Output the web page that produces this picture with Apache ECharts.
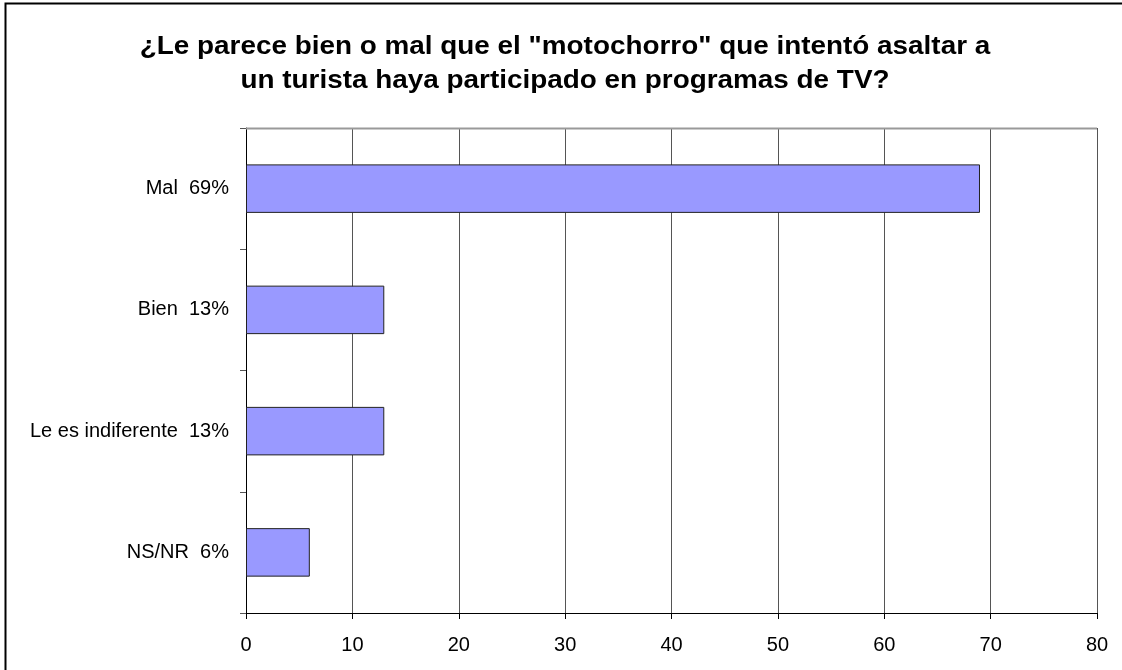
<!DOCTYPE html>
<html>
	<head>
		<meta charset="UTF-8" />
		<script src="https://cdn.jsdelivr.net/npm/echarts@6/dist/echarts.min.js"></script>
		<title>Encuesta</title>
		<style>
			body {
				margin: 0;
				background-color: #ffffff;
				font-family: 'Liberation Sans', Arial, sans-serif;
			}
			#chart {
				width: 1122px;
				height: 670px;
			}
		</style>
	</head>
	<body>
		<div id="chart"></div>
	</body>
</html>

<script>
	// datos (de abajo hacia arriba, como en el original)
	var categorias = ['NS/NR  6%', 'Le es indiferente  13%', 'Bien  13%', 'Mal  69%']
	var valores = [6, 13, 13, 69]
	var titulo = '¿Le parece bien o mal que el "motochorro" que intentó asaltar a\nun turista haya participado en programas de TV?'

	var myChart = echarts.init(document.getElementById('chart'))

	var option = {
		animation: false,
		backgroundColor: '#ffffff',
		textStyle: { fontFamily: 'Liberation Sans' },
		graphic: [
			{
				// marco exterior
				type: 'rect',
				shape: { x: 5.5, y: 3.5, width: 1130, height: 680 },
				style: { fill: 'none', stroke: '#000', lineWidth: 2 },
				silent: true,
			},
			{
				// titulo (algo estirado a lo ancho, como en la imagen)
				type: 'text',
				x: 565,
				y: 30,
				scaleX: 1.115,
				style: {
					text: titulo,
					fontFamily: 'Liberation Sans',
					fontSize: 25,
					fontWeight: 'bold',
					fill: '#000',
					lineHeight: 34,
					align: 'center',
					verticalAlign: 'top',
				},
				silent: true,
			},
			{
				// borde superior del área de trazado
				type: 'line',
				shape: { x1: 246, y1: 128.5, x2: 1097, y2: 128.5 },
				style: { stroke: '#999', lineWidth: 2 },
				silent: true,
				z: 10,
			},
		],
		grid: {
			left: 246,
			right: 25,
			top: 128,
			bottom: 57,
		},
		xAxis: {
			type: 'value',
			min: 0,
			max: 80,
			interval: 10,
			axisLine: { show: true, lineStyle: { color: '#000', width: 1 } },
			axisTick: { show: true, length: 6, lineStyle: { color: '#000' } },
			axisLabel: { color: '#000', fontSize: 20, margin: 22, fontFamily: 'Liberation Sans' },
			splitLine: { show: true, lineStyle: { color: '#555', width: 1 } },
		},
		yAxis: {
			type: 'category',
			data: categorias,
			axisLine: { show: true, onZero: false, lineStyle: { color: '#000', width: 1 } },
			axisTick: { show: true, length: 6, alignWithLabel: false, lineStyle: { color: '#555' } },
			axisLabel: { color: '#000', fontSize: 20, margin: 17, fontFamily: 'Liberation Sans' },
		},
		series: [
			{
				type: 'bar',
				data: valores,
				barWidth: '40%',
				itemStyle: {
					color: '#9999ff',
					borderColor: '#222',
					borderWidth: 1,
				},
			},
		],
	}

	myChart.setOption(option)
</script>
